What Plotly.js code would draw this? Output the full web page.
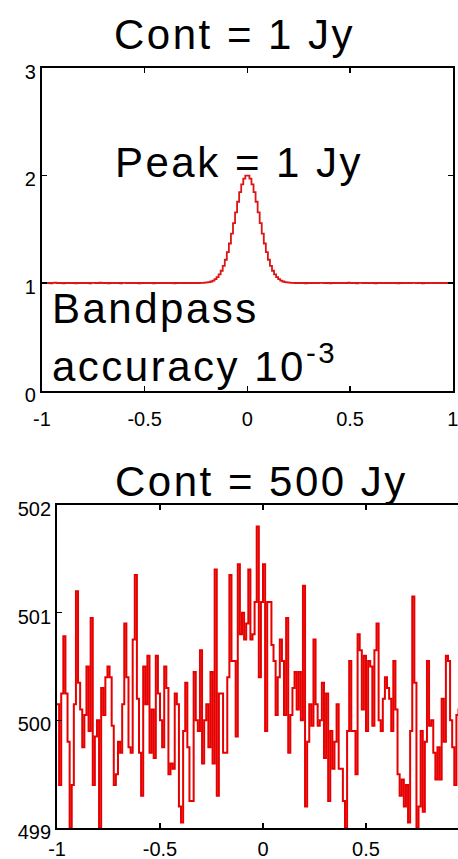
<!DOCTYPE html>
<html><head><meta charset="utf-8">
<script src="https://cdn.plot.ly/plotly-3.0.1.min.js"></script>
<style>
html,body{margin:0;padding:0;background:#fff;}
#chart{width:458px;height:859px;}
.annotation-text{letter-spacing:2.5px;}
</style></head><body><div id="chart"></div>
<script>
// Top panel: 1 Jy line on 1 Jy continuum (200 channels, -1..1)
const lineSpectrum = [
1.001,0.999,1.002,1.000,0.998,1.001,1.003,0.999,1.000,1.002,
0.998,1.000,1.001,0.999,1.002,1.000,0.997,1.001,1.000,1.002,
0.999,1.001,1.000,0.998,1.002,1.001,0.999,1.000,1.003,0.999,
1.000,1.001,0.998,1.000,1.002,0.999,1.001,1.000,0.998,1.001,
1.002,0.999,1.000,1.001,0.999,1.002,1.000,0.998,1.001,1.000,
1.002,0.999,1.001,1.000,0.998,1.002,1.000,0.999,1.001,1.000,
0.999,1.002,1.000,1.001,0.998,1.000,1.001,0.999,1.002,1.000,
1.001,0.999,1.000,1.002,0.999,1.001,1.000,1.001,
1.002,1.003,1.005,1.009,1.014,1.023,1.036,1.054,1.080,1.114,
1.159,1.216,1.286,1.367,1.458,1.556,1.657,1.755,1.844,1.917,
1.969,1.997,1.997,1.969,1.917,1.844,1.755,1.657,1.556,1.458,
1.367,1.286,1.216,1.159,1.114,1.080,1.054,1.036,1.023,1.014,
1.009,1.005,1.003,1.002,
1.001,1.000,0.999,1.002,1.000,1.001,0.998,1.000,1.002,0.999,
1.001,1.000,0.999,1.002,1.001,0.999,1.000,1.002,0.998,1.001,
1.000,0.999,1.002,1.000,1.001,0.999,1.000,1.003,0.999,1.001,
1.000,0.998,1.001,1.002,0.999,1.000,1.001,0.999,1.002,1.000,
0.998,1.001,1.000,1.002,0.999,1.001,1.000,0.999,1.002,1.000,
1.001,0.998,1.000,1.002,0.999,1.001,1.000,0.999,1.002,1.001,
0.999,1.000,1.001,0.998,1.002,1.000,0.999,1.001,1.000,1.002,
0.999,1.001,1.000,0.999,1.002,1.000,1.001,1.000
];
// Bottom panel: same line on 500 Jy continuum with bandpass errors (196 channels)
const contSpectrum = [
500.15,499.4,500.25,500.78,500.25,499.8,499.0,499.4,500.15,501.2,
500.35,500.1,499.75,500.05,500.5,499.9,500.95,499.4,499.85,500.0,
499.0,500.3,500.05,500.4,500.5,500.4,499.95,499.4,499.5,499.8,
499.7,500.15,500.9,500.4,499.75,499.7,500.75,501.35,500.2,499.7,
499.3,500.5,500.15,500.6,499.7,500.1,499.65,500.6,500.25,500.0,
499.75,500.5,500.3,499.5,499.6,499.55,500.25,500.15,499.2,499.05,
499.9,500.35,499.75,499.25,499.25,500.45,500.0,499.9,500.65,499.6,
500.0,500.15,499.75,500.45,499.6,501.4,499.3,500.25,500.25,499.7,
499.7,500.4,501.35,500.55,500.55,499.85,501.45,500.8,501.0,500.75,
500.9,501.4,500.75,500.8,501.1,501.8,500.4,501.1,501.45,499.9,
501.1,501.1,500.7,500.55,500.05,500.4,500.75,500.55,500.05,500.95,
499.7,500.05,500.3,500.45,500.1,500.45,500.0,501.25,499.2,499.8,
500.15,499.95,500.75,500.15,499.95,500.0,500.35,499.65,500.25,499.25,
499.9,499.55,499.8,500.15,499.55,499.55,499.25,499.0,499.9,500.55,
499.9,499.9,499.5,500.8,500.65,500.1,500.6,499.9,500.55,500.5,
499.95,500.65,500.9,500.0,499.9,500.2,500.4,500.3,500.2,499.9,
500.55,500.1,499.5,499.3,499.45,499.2,499.4,499.05,499.9,501.15,
500.35,499.0,499.2,499.9,499.15,499.8,500.55,499.95,500.0,499.7,
499.45,499.75,499.45,500.2,499.8,500.6,500.55,500.0,499.75,499.4,
500.05,500.1,499.85,500.3,499.9,500.2
];
const panelTitles = ['Cont = 1 Jy', 'Cont = 500 Jy'];
const lineLabel = 'Peak = 1 Jy';
const noteLines = ['Bandpass', 'accuracy 10<sup>-3</sup>'];
const topXTickVals = [-1, -0.5, 0, 0.5, 1];
const topXTickText = ['-1', '-0.5', '0', '0.5', '1'];
const topYTickVals = [0, 1, 2, 3];
const topYTickText = ['0', '1', '2', '3'];
const botXTickVals = [-1, -0.5, 0, 0.5];
const botXTickText = ['-1', '-0.5', '0', '0.5'];
const botYTickVals = [499, 500, 501, 502];
const botYTickText = ['499', '500', '501', '502'];

function stairs(vals) {
  const n = vals.length, w = 2 / n;
  const x = [], y = [];
  for (let i = 0; i < n; i++) { x.push(-1 + i * w); y.push(vals[i]); }
  x.push(1); y.push(vals[n - 1]);
  return {x, y};
}
const s1 = stairs(lineSpectrum);
const s2 = stairs(contSpectrum);

const FONT = 'Liberation Sans, Arial, Helvetica, sans-serif';
const tickFont = {family: FONT, size: 20, color: '#000'};
function axisBase(extra) {
  return Object.assign({
    showline: true, linecolor: '#000', linewidth: 2,
    ticks: 'inside', ticklen: 5, tickwidth: 1.5, tickcolor: '#000',
    tickmode: 'array', tickfont: tickFont, ticklabeloverflow: 'allow',
    showgrid: false, zeroline: false, fixedrange: true
  }, extra);
}

const data = [
  {x: s1.x, y: s1.y, xaxis: 'x', yaxis: 'y', mode: 'lines',
   line: {shape: 'hv', color: 'rgb(220,20,20)', width: 1.8}, hoverinfo: 'skip'},
  {x: s2.x, y: s2.y, xaxis: 'x2', yaxis: 'y2', mode: 'lines',
   line: {shape: 'hv', color: 'rgb(230,0,0)', width: 2}, hoverinfo: 'skip'}
];

const layout = {
  width: 458, height: 859,
  margin: {l: 0, r: 0, t: 0, b: 0},
  paper_bgcolor: '#fff', plot_bgcolor: '#fff',
  showlegend: false,
  xaxis: axisBase({domain: [0.0917, 0.9885], range: [-1, 1], anchor: 'y', mirror: 'ticks',
    tickvals: topXTickVals, ticktext: topXTickText, ticklabelstandoff: 9}),
  yaxis: axisBase({domain: [0.5452, 0.9212], range: [0, 3], anchor: 'x', mirror: 'ticks',
    tickvals: topYTickVals, ticktext: topYTickText, ticklabelshift: 4}),
  xaxis2: axisBase({domain: [0.1245, 1], range: [-1, 0.9466], anchor: 'y2', mirror: 'ticks',
    tickvals: botXTickVals, ticktext: botXTickText, ticklabelstandoff: 2}),
  yaxis2: axisBase({domain: [0.0361, 0.4121], range: [499, 502], anchor: 'x2', mirror: false,
    tickvals: botYTickVals, ticktext: botYTickText, ticklabelshift: 4}),
  annotations: [
    {text: panelTitles[0], xref: 'paper', yref: 'paper', x: 0.512, y: 0.9593,
     xanchor: 'center', yanchor: 'middle', showarrow: false, font: {family: FONT, size: 42, color: '#000'}},
    {text: panelTitles[1], xref: 'paper', yref: 'paper', x: 0.570, y: 0.4389,
     xanchor: 'center', yanchor: 'middle', showarrow: false, font: {family: FONT, size: 42, color: '#000'}},
    {text: lineLabel, xref: 'paper', yref: 'paper', x: 0.522, y: 0.8103,
     xanchor: 'center', yanchor: 'middle', showarrow: false, font: {family: FONT, size: 42, color: '#000'}},
    {text: noteLines[0], xref: 'paper', yref: 'paper', x: 0.109, y: 0.6414,
     xanchor: 'left', yanchor: 'middle', showarrow: false, font: {family: FONT, size: 42, color: '#000'}},
    {text: noteLines[1], xref: 'paper', yref: 'paper', x: 0.109, y: 0.5774,
     xanchor: 'left', yanchor: 'middle', showarrow: false, font: {family: FONT, size: 42, color: '#000'}}
  ]
};

Plotly.newPlot('chart', data, layout, {staticPlot: true, displayModeBar: false});
</script>
</body></html>
